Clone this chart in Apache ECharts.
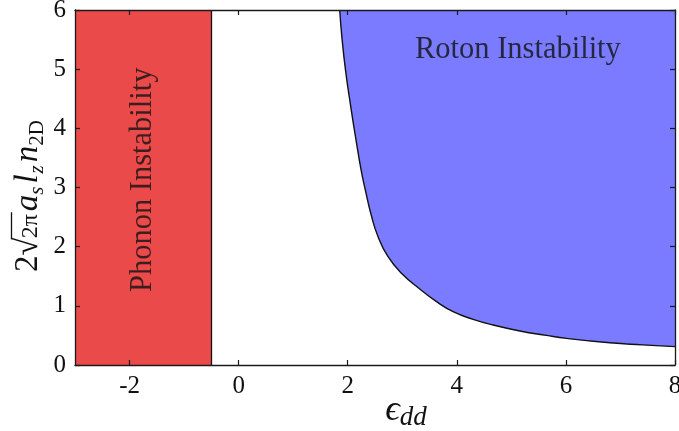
<!DOCTYPE html>
<html><head><meta charset="utf-8">
<script src="https://cdn.jsdelivr.net/npm/echarts@6/dist/echarts.min.js"></script>
<style>html,body{margin:0;padding:0;background:#fff}#c{width:679px;height:431px}</style>
</head><body><div id="c"></div>
<script>
const xTicks = [-2, 0, 2, 4, 6, 8];
const yTicks = [0, 1, 2, 3, 4, 5, 6];
const phononEps = [-3, -0.5];
const phononN = [6, 6];
const rotonEps = [1.853, 1.895, 1.963, 2.051, 2.147, 2.251, 2.323, 2.422, 2.556, 2.739, 2.985, 3.321, 3.628, 3.932, 4.299, 4.666, 5.156, 5.646, 6.013, 6.807, 7.4, 8.0];
const rotonN   = [6.000, 5.521, 4.957, 4.394, 3.831, 3.267, 2.958, 2.564, 2.168, 1.830, 1.550, 1.284, 1.070, 0.901, 0.772, 0.676, 0.575, 0.500, 0.450, 0.375, 0.340, 0.310];

const SERIF = '"Liberation Serif", "DejaVu Serif", serif';
const chart = echarts.init(document.getElementById('c'), null, {renderer: 'canvas'});
const axisLine = {show: true, onZero: false, lineStyle: {color: '#1a1a1a', width: 1.3}};
const tick = (vals) => ({show: true, inside: true, length: 5, customValues: vals, lineStyle: {color: '#1a1a1a', width: 1.2}});
const label = {fontFamily: SERIF, fontSize: 25, color: '#111'};

// y-axis title built from text pieces (measured) so the radical can get its bar
const mctx = document.createElement('canvas').getContext('2d');
function fontStr(p) { return (p.it ? 'italic ' : '') + p.size + 'px ' + SERIF; }
function measure(p) { mctx.font = fontStr(p); return mctx.measureText(p.t).width; }
const yTitle = [
  {t: '2', size: 33}, {t: '√', size: 33, gap: -1}, {t: '2π', size: 24, over: true, gap: 3},
  {t: 'a', size: 33, it: true}, {t: 's', size: 21, it: true, sub: true, gap: 3},
  {t: 'l', size: 33, it: true, gap: 1}, {t: 'z', size: 21, it: true, sub: true, gap: 3},
  {t: 'n', size: 33, it: true}, {t: '2D', size: 21, sub: true}
];
const children = [];
let total = 0;
yTitle.forEach(p => { p.w = measure(p); total += p.w + (p.gap || 0); });
let cx = -total / 2;
const base = 9;
yTitle.forEach(p => {
  const bl = base + (p.sub ? 6 : 0);
  children.push({type: 'text', x: cx, y: bl - 0.3 * p.size,
    style: {text: p.t, font: fontStr(p), fill: '#111', align: 'left', verticalAlign: 'middle'}});
  if (p.over) {
    children.push({type: 'line', shape: {x1: cx - 1, y1: base - 26.5, x2: cx + p.w + 2, y2: base - 26.5},
      style: {stroke: '#111', lineWidth: 1.3}});
  }
  cx += p.w + (p.gap || 0);
});

chart.setOption({
  animation: false,
  backgroundColor: '#fff',
  grid: {left: 75, right: 4, top: 10, bottom: 66, containLabel: false, outerBoundsMode: 'none'},
  xAxis: [
    {type: 'value', position: 'bottom', min: -3, max: 8, z: 10, axisLine, axisTick: tick(xTicks),
     axisLabel: Object.assign({customValues: xTicks, margin: 9, hideOverlap: false}, label), splitLine: {show: false}},
    {type: 'value', position: 'top', min: -3, max: 8, z: 10, axisLine, axisTick: tick(xTicks),
     axisLabel: {show: false}, splitLine: {show: false}}
  ],
  yAxis: [
    {type: 'value', position: 'left', min: 0, max: 6, interval: 1, z: 10, axisLine, axisTick: tick(yTicks),
     axisLabel: Object.assign({customValues: yTicks, margin: 9}, label), splitLine: {show: false}},
    {type: 'value', position: 'right', min: 0, max: 6, interval: 1, z: 10, axisLine, axisTick: tick(yTicks),
     axisLabel: {show: false}, splitLine: {show: false}}
  ],
  series: [
    {type: 'line', data: phononEps.map((x, i) => [x, phononN[i]]), symbol: 'none',
     lineStyle: {width: 0}, areaStyle: {color: '#EA4A4A', opacity: 1, origin: 'start'},
     markLine: {silent: true, symbol: 'none', label: {show: false},
       lineStyle: {color: '#111', width: 1.3, type: 'solid'},
       data: [{xAxis: phononEps[1]}]}},
    {type: 'line', data: rotonEps.map((x, i) => [x, rotonN[i]]), symbol: 'none',
     smooth: 0.5,
     lineStyle: {color: '#111', width: 1.4}, areaStyle: {color: '#7B7BFF', opacity: 1, origin: 'end'}},
    {type: 'scatter', symbol: 'circle', symbolSize: 1, itemStyle: {color: 'rgba(0,0,0,0)'}, data: [[-1.75, 3.13]], silent: true, z: 5,
     label: {show: true, position: 'inside', rotate: 90, formatter: 'Phonon Instability',
       fontFamily: SERIF, fontSize: 30.5, color: '#111'}},
    {type: 'scatter', symbol: 'circle', symbolSize: 1, itemStyle: {color: 'rgba(0,0,0,0)'}, data: [[5.12, 5.32]], silent: true, z: 5,
     label: {show: true, position: 'inside', formatter: 'Roton Instability',
       fontFamily: SERIF, fontSize: 30.5, color: '#111'}}
  ],
  graphic: [
    {type: 'group', x: 29, y: 196, rotation: Math.PI / 2, z: 20, children},
    {type: 'text', x: 406, y: 412, z: 20,
     style: {
       text: '{i|ϵ}{s|dd}',
       align: 'center', verticalAlign: 'middle',
       rich: {
         i: {fontFamily: SERIF, fontStyle: 'italic', fontSize: 36, lineHeight: 38, verticalAlign: 'top', fill: '#111'},
         s: {fontFamily: SERIF, fontStyle: 'italic', fontSize: 27, lineHeight: 24, verticalAlign: 'bottom', fill: '#111'}
       }
     }}
  ]
});
</script></body></html>
